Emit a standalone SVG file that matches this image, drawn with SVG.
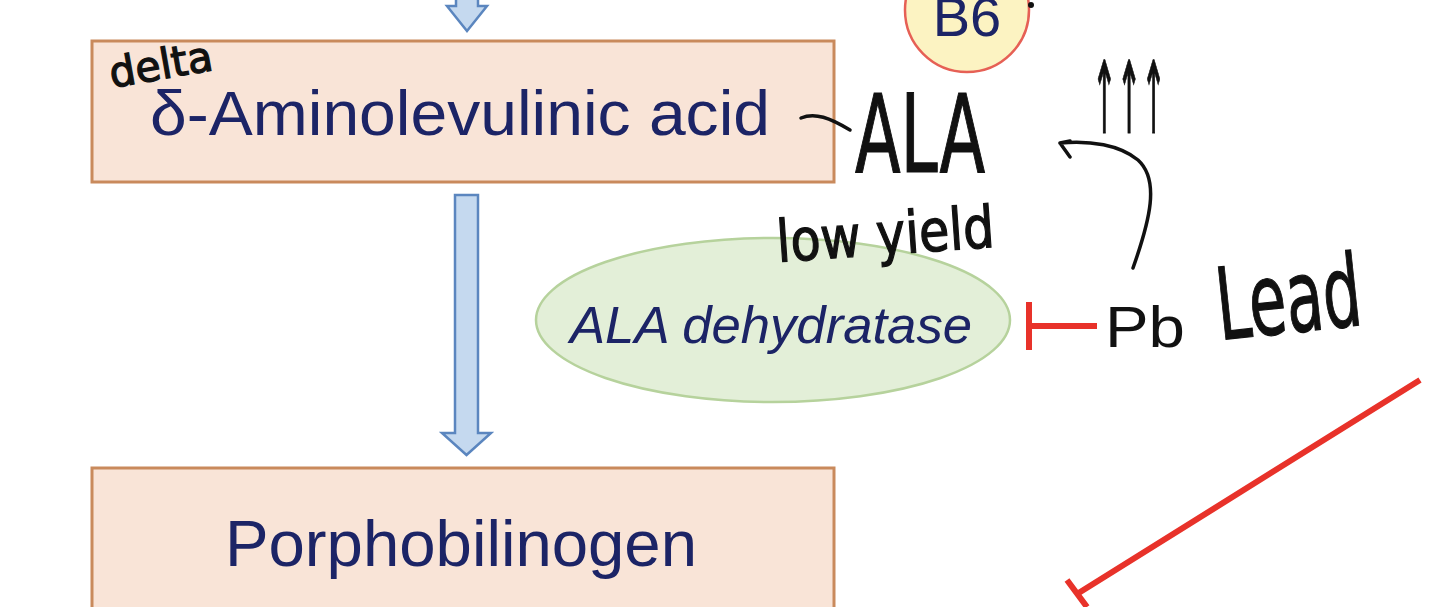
<svg xmlns="http://www.w3.org/2000/svg" width="1440" height="607" viewBox="0 0 1440 607">
<style>
.box{fill:#f9e4d7;stroke:#c98a5c;stroke-width:3}
.lbl{font-family:"Liberation Sans",Arial,sans-serif;fill:#1c2466}
.arrow{fill:#c5d9ef;stroke:#5b86bf;stroke-width:2.5;stroke-linejoin:miter}
.hand{font-family:"Liberation Sans Narrow","DejaVu Sans Condensed","Liberation Sans",sans-serif;fill:#111;stroke:#111;stroke-width:1.2}
.ink{fill:none;stroke:#111;stroke-width:3.5;stroke-linecap:round;stroke-linejoin:round}
.red{fill:none;stroke:#e8322a;stroke-width:6}
</style>
<rect width="1440" height="607" fill="#fff"/>
<g id="node-ala">
<rect class="box" x="92" y="41" width="742" height="141"/>
<text class="lbl" x="460" y="135" font-size="63" text-anchor="middle" textLength="620" lengthAdjust="spacingAndGlyphs">δ-Aminolevulinic acid</text>
</g>
<g id="node-pbg">
<rect class="box" x="92" y="468" width="742" height="160"/>
<text class="lbl" x="461" y="566" font-size="65" text-anchor="middle" textLength="472" lengthAdjust="spacingAndGlyphs">Porphobilinogen</text>
</g>
<g id="node-b6">
<circle cx="967" cy="10" r="62" fill="#fcf3c2" stroke="#e66055" stroke-width="2.5"/>
<text class="lbl" x="967" y="36" font-size="56" text-anchor="middle">B6</text>
<circle cx="1031" cy="5" r="3" fill="#111"/>
</g>
<g id="node-dehydratase">
<ellipse cx="773" cy="320" rx="237" ry="82" fill="#e3efd8" stroke="#b6d29c" stroke-width="2.5"/>
<text class="lbl" x="771" y="343" font-size="52" font-style="italic" text-anchor="middle" textLength="402" lengthAdjust="spacingAndGlyphs">ALA dehydratase</text>
</g>
<g id="node-pb">
<text x="1105" y="347" font-size="58" font-family="Liberation Sans,Arial,sans-serif" fill="#111" textLength="80" lengthAdjust="spacingAndGlyphs">Pb</text>
</g>
<g id="annotations">
<text class="hand" x="112" y="88" font-size="42" textLength="104" lengthAdjust="spacingAndGlyphs" transform="rotate(-10 112 88)">delta</text>
<text class="hand" x="855" y="172" font-size="108" textLength="130" lengthAdjust="spacingAndGlyphs">ALA</text>
<text class="hand" x="778" y="262" font-size="58" textLength="218" lengthAdjust="spacingAndGlyphs" transform="rotate(-4 778 262)">low yield</text>
<text class="hand" x="1092" y="133" font-size="100" textLength="74" lengthAdjust="spacingAndGlyphs" stroke-width="2.5">↑↑↑</text>
<text class="hand" x="1220" y="340" font-size="100" textLength="145" lengthAdjust="spacingAndGlyphs" transform="rotate(-6 1220 340)">Lead</text>
</g>
<g id="connectors">
<path class="arrow" d="M456,-10 L478,-10 L478,6 L487,6 L467,31 L447,6 L456,6 Z"/>
<path class="arrow" d="M455,195 L478,195 L478,433 L491,433 L466.5,455 L442,433 L455,433 Z"/>
<path class="red" d="M1029,302 L1029,350 M1029,326 L1097,326"/>
<path class="red" d="M1420,380 L1077,594 M1067,580 L1087,607"/>
<path class="ink" d="M801,118 C815,112 830,118 850,130"/>
<path class="ink" d="M1133,268 C1150,220 1160,180 1138,160 C1120,145 1090,140 1060,143 M1060,143 L1070,157 M1060,143 L1070,141"/>
</g>
</svg>
